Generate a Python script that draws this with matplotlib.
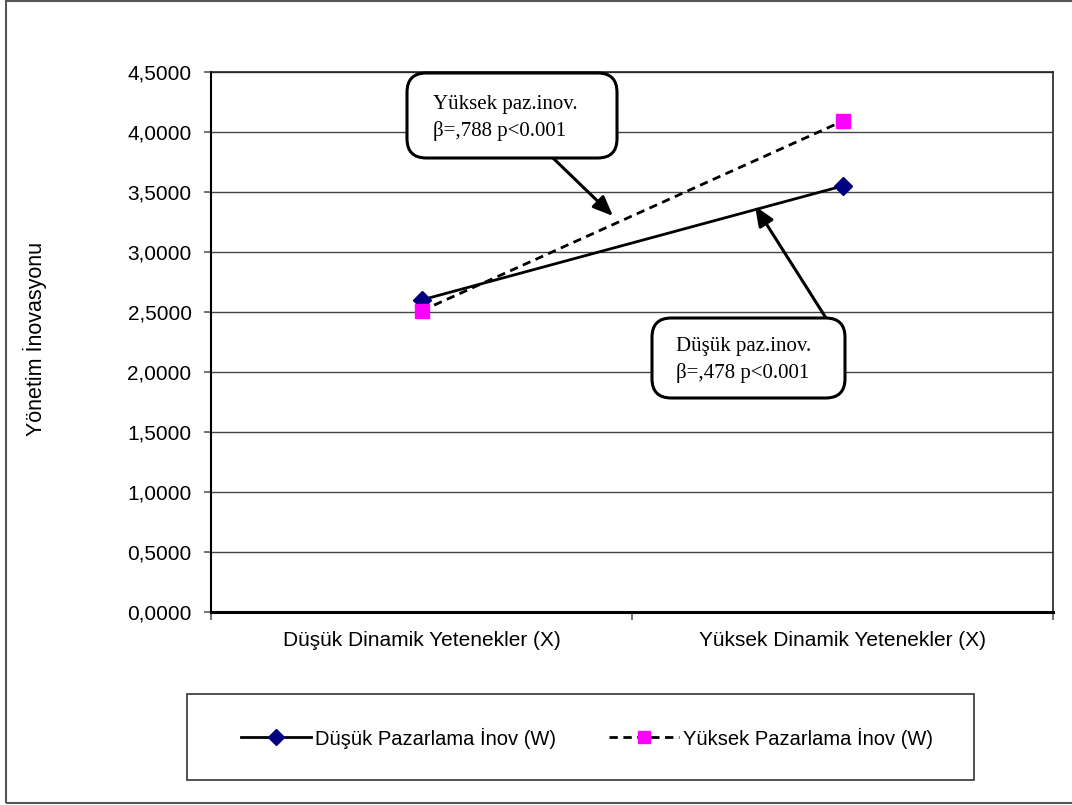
import numpy as np
import matplotlib
matplotlib.use("Agg")
import matplotlib.pyplot as plt
from matplotlib.patches import FancyBboxPatch, Rectangle
from matplotlib.ticker import FuncFormatter, FixedLocator

plt.rcParams['font.family'] = ['Liberation Sans', 'DejaVu Sans']

# data
categories = ['Düşük Dinamik Yetenekler (X)', 'Yüksek Dinamik Yetenekler (X)']
low_w = [2.60, 3.55]
high_w = [2.51, 4.09]
series_names = ['Düşük Pazarlama İnov (W)', 'Yüksek Pazarlama İnov (W)']
y_ticks = np.arange(0, 4.51, 0.5)
box_texts = ['Yüksek paz.inov.\nβ=,788 p<0.001', 'Düşük paz.inov.\nβ=,478 p<0.001']

W, H = 1072, 805
fig = plt.figure(figsize=(W / 100, H / 100), dpi=100)

def fx(px):
    return px / W

def fy(py):
    return 1 - py / H

# outer chart frame
fig.patches.append(Rectangle((fx(6), fy(803)), fx(1080 - 6), fy(1) - fy(803),
                             transform=fig.transFigure, fill=False,
                             edgecolor='#555555', lw=1.5))

ax = fig.add_axes([fx(211), fy(612), fx(1053 - 211), fy(72) - fy(612)])
x = np.arange(len(categories))
ax.plot(x, low_w, color='black', lw=2, marker='D', markersize=9,
        markerfacecolor='#000080', markeredgecolor='#000080',
        label=series_names[0], zorder=4)
ax.plot(x, high_w, color='black', lw=2, ls=(0, (3, 2)), marker='s', markersize=10,
        markerfacecolor='#FF00FF', markeredgecolor='#FF00FF',
        label=series_names[1], zorder=4)

ax.set_xlim(-0.5, 1.5)
ax.set_ylim(0, 4.5)
ax.set_yticks(y_ticks)
ax.yaxis.set_major_formatter(FuncFormatter(lambda v, p: f"{v:.4f}".replace('.', ',')))
ax.yaxis.grid(True, color='#444444', lw=1)
ax.set_axisbelow(True)

ax.xaxis.set_major_locator(FixedLocator([-0.5, 0.5, 1.5]))
ax.xaxis.set_major_formatter(FuncFormatter(lambda v, p: ''))
ax.xaxis.set_minor_locator(FixedLocator(x))
ax.set_xticklabels(categories, minor=True)
ax.tick_params(axis='x', which='minor', length=0, pad=14, labelsize=15)
ax.tick_params(axis='x', which='major', length=6, color='#777777', width=1.5)
ax.tick_params(axis='y', length=5, color='#777777', width=1.5, pad=9, labelsize=15)

for s in ['top', 'right']:
    ax.spines[s].set_color('#222222')
    ax.spines[s].set_linewidth(1.2)
ax.spines['left'].set_linewidth(1.5)
ax.spines['bottom'].set_linewidth(2.2)

fig.text(fx(35), fy(339), 'Yönetim İnovasyonu', rotation=90, ha='center', va='center',
         fontsize=15.5)

# annotation boxes
boxes = [(407, 73, 617, 158, 433, 118), (652, 318, 845, 398, 676, 360)]
for (l, t, r, b, tx, ty), txt in zip(boxes, box_texts):
    fig.patches.append(FancyBboxPatch((fx(l), fy(b)), fx(r - l), fy(t) - fy(b),
                                      boxstyle='round,pad=0,rounding_size=0.018',
                                      transform=fig.transFigure, facecolor='white',
                                      edgecolor='black', lw=2.2, zorder=5,
                                      mutation_aspect=W / H))
    fig.text(fx(tx), fy(ty), txt, ha='left', va='center', fontsize=15,
             family='Liberation Serif', linespacing=1.45, zorder=6)

# arrows
arrows = [((553, 158), (613, 216)), ((826, 318), (755, 206))]
for (x0, y0), (x1, y1) in arrows:
    ax.annotate('', xy=(fx(x1), fy(y1)), xycoords='figure fraction',
                xytext=(fx(x0), fy(y0)), textcoords='figure fraction',
                arrowprops=dict(arrowstyle='-|>,head_length=1.2,head_width=0.5',
                                color='black', lw=2.2, shrinkA=0, shrinkB=0),
                zorder=6, annotation_clip=False)

# legend
fig.patches.append(Rectangle((fx(187), fy(780)), fx(974 - 187), fy(694) - fy(780),
                             transform=fig.transFigure, fill=False,
                             edgecolor='#333333', lw=1.2))
h, lab = ax.get_legend_handles_labels()
fig.legend(h, lab, loc='center', bbox_to_anchor=(fx(587), fy(738)), ncol=2,
           frameon=False, fontsize=14.5, handlelength=3.5, handletextpad=0.2,
           columnspacing=2.6, markerscale=0.85)

fig.savefig('out.png', dpi=100, facecolor='white')
